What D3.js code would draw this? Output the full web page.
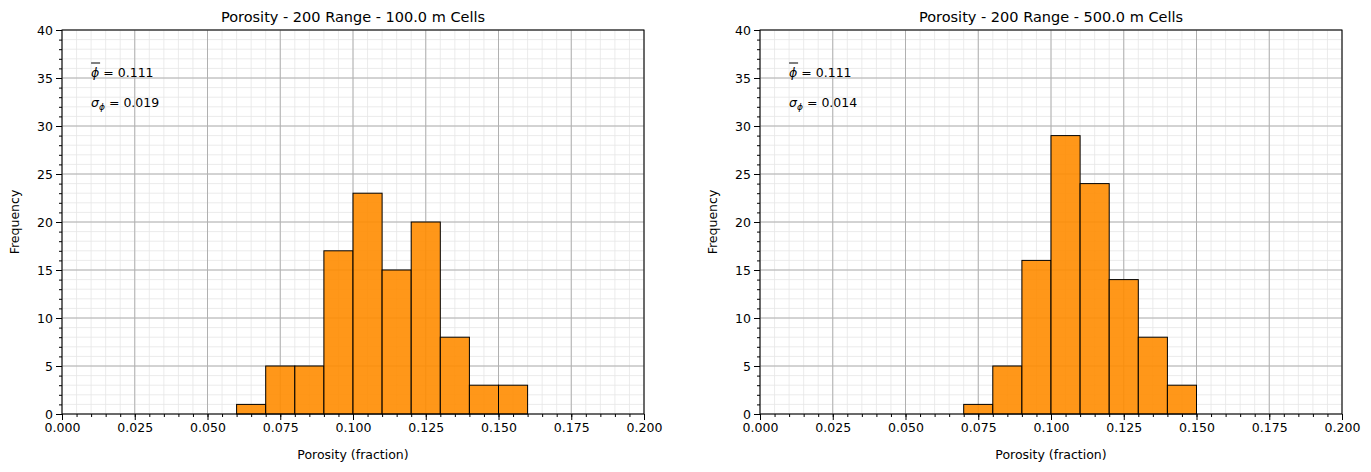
<!DOCTYPE html>
<html><head><meta charset="utf-8">
<script src="https://cdn.jsdelivr.net/npm/d3@7"></script>
<style>body{margin:0;background:#fff;font-family:"DejaVu Sans",sans-serif;}</style>
</head><body><svg id="c" width="1371" height="472"></svg>
<script>
// bin edges shared by both panels
const binEdges = [0.06,0.07,0.08,0.09,0.10,0.11,0.12,0.13,0.14,0.15,0.16];
const countsLeft = [1,5,5,17,23,15,20,8,3,3];
const countsRight = [0,1,5,16,29,24,14,8,3,0];
const titles = ['Porosity - 200 Range - 100.0 m Cells','Porosity - 200 Range - 500.0 m Cells'];
const means = ['0.111','0.111'];
const stds = ['0.019','0.014'];
const xTicks = [0,0.025,0.05,0.075,0.1,0.125,0.15,0.175,0.2];
const yTicks = [0,5,10,15,20,25,30,35,40];

const svg = d3.select('#c');
const panels = [{x0:62,counts:countsLeft},{x0:760,counts:countsRight}];

panels.forEach(function(p,i){
    let w = 582, top = 30, bot = 414;
    let x = d3.scaleLinear().domain([0,0.2]).range([p.x0,p.x0+w]);
    let y = d3.scaleLinear().domain([0,40]).range([bot,top]);
    let g = svg.append('g');

    // minor grid
    g.selectAll('line.mx').data(d3.range(0,0.2001,0.005)).enter().append('line')
        .attr('x1',d=>x(d)).attr('x2',d=>x(d)).attr('y1',top).attr('y2',bot)
        .attr('stroke','#e6e6e6').attr('stroke-width',0.8);
    g.selectAll('line.my').data(d3.range(0,41,1)).enter().append('line')
        .attr('y1',d=>y(d)).attr('y2',d=>y(d)).attr('x1',p.x0).attr('x2',p.x0+w)
        .attr('stroke','#e6e6e6').attr('stroke-width',0.8);
    // major grid
    g.selectAll('line.Mx').data(xTicks).enter().append('line')
        .attr('x1',d=>x(d)).attr('x2',d=>x(d)).attr('y1',top).attr('y2',bot)
        .attr('stroke','#b0b0b0').attr('stroke-width',1);
    g.selectAll('line.My').data(yTicks).enter().append('line')
        .attr('y1',d=>y(d)).attr('y2',d=>y(d)).attr('x1',p.x0).attr('x2',p.x0+w)
        .attr('stroke','#b0b0b0').attr('stroke-width',1);

    // bars
    g.selectAll('rect').data(p.counts.map((c,k)=>({a:binEdges[k],b:binEdges[k+1],c:c})).filter(d=>d.c>0))
        .enter().append('rect')
        .attr('x',d=>x(d.a)).attr('width',d=>x(d.b)-x(d.a))
        .attr('y',d=>y(d.c)).attr('height',d=>y(0)-y(d.c))
        .attr('fill','#ff8c00').attr('fill-opacity',0.9)
        .attr('stroke','#000').attr('stroke-width',1);

    // axes
    let xa = g.append('g').attr('transform','translate(0,'+bot+')')
        .call(d3.axisBottom(x).tickValues(xTicks).tickFormat(d3.format('.3f')).tickSize(6));
    g.append('g').attr('transform','translate(0,'+bot+')')
        .call(d3.axisBottom(x).tickValues(d3.range(0,0.2001,0.005)).tickFormat('').tickSize(3));
    g.append('g').attr('transform','translate('+p.x0+',0)')
        .call(d3.axisLeft(y).tickValues(yTicks).tickSize(6));
    g.append('g').attr('transform','translate('+p.x0+',0)')
        .call(d3.axisLeft(y).tickValues(d3.range(0,41,1)).tickFormat('').tickSize(3));
    g.selectAll('.domain').remove();
    g.selectAll('.tick text').attr('font-size',12.5).attr('fill','#000').attr('font-family','DejaVu Sans');
    g.append('rect').attr('x',p.x0).attr('y',top).attr('width',w).attr('height',bot-top)
        .attr('fill','none').attr('stroke','#000').attr('stroke-width',1);

    g.append('text').attr('x',p.x0+w/2).attr('y',22).attr('text-anchor','middle')
        .attr('font-size',14.5).text(titles[i]);
    g.append('text').attr('x',p.x0+w/2).attr('y',459).attr('text-anchor','middle')
        .attr('font-size',12.5).text('Porosity (fraction)');
    g.append('text').attr('transform','translate('+(p.x0-43)+','+(top+bot)/2+') rotate(-90)')
        .attr('text-anchor','middle').attr('font-size',12.5).text('Frequency');

    // annotations
    let ax = x(0.01);
    let t1 = g.append('text').attr('x',ax).attr('y',77).attr('font-size',12.5);
    t1.append('tspan').attr('font-style','italic').text('ϕ');
    t1.append('tspan').text(' = ' + means[i]);
    g.append('line').attr('x1',ax).attr('x2',ax+9).attr('y1',63).attr('y2',63).attr('stroke','#000');
    let t2 = g.append('text').attr('x',ax).attr('y',107).attr('font-size',12.5);
    t2.append('tspan').attr('font-style','italic').text('σ');
    t2.append('tspan').attr('font-style','italic').attr('font-size',9).attr('dy',3).text('ϕ');
    t2.append('tspan').attr('dy',-3).text(' = ' + stds[i]);
});
</script></body></html>
